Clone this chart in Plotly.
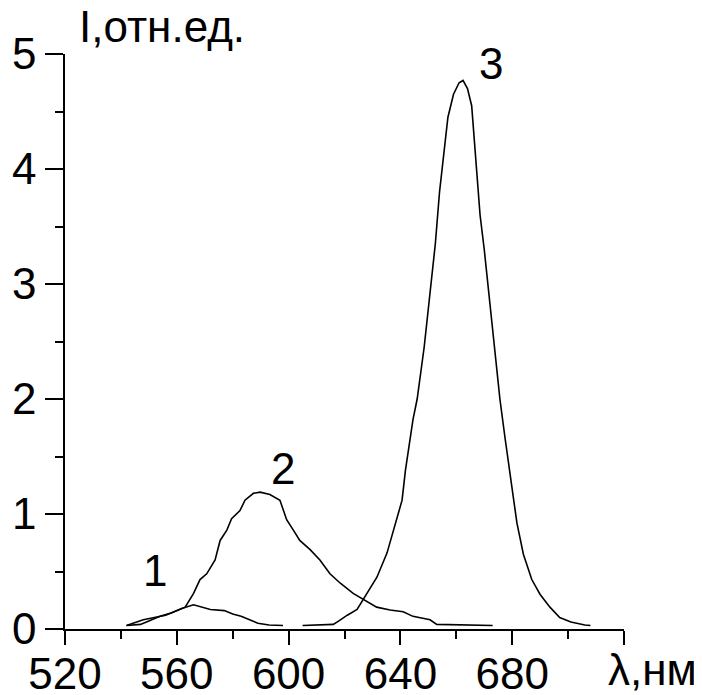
import plotly.graph_objects as go

# ---- data ----
curve1_x = [542, 547, 550, 554, 558, 562, 566, 569, 572, 577, 580, 583, 586, 589, 593, 598]
curve1_y = [0.03, 0.04, 0.07, 0.11, 0.14, 0.18, 0.21, 0.19, 0.17, 0.16, 0.13, 0.11, 0.08, 0.05, 0.035, 0.03]

curve2_x = [542, 548, 556, 563, 566, 568.3, 570.7, 573.7, 575.5, 577.9, 579.6, 582.6, 584.4, 587.4,
            589.8, 593.3, 596.9, 599.3, 601.7, 604, 607.7, 611.2, 614.8, 618.4, 623.1, 628, 631.5,
            636.3, 641, 644.5, 650.6, 653, 665, 673]
curve2_y = [0.03, 0.08, 0.12, 0.19, 0.31, 0.43, 0.48, 0.6, 0.77, 0.86, 0.96, 1.03, 1.12, 1.18,
            1.19, 1.17, 1.12, 0.95, 0.86, 0.77, 0.69, 0.6, 0.48, 0.4, 0.31, 0.24, 0.19,
            0.165, 0.15, 0.11, 0.08, 0.04, 0.035, 0.03]

curve3_x = [605, 616, 618, 621, 624.5, 626.6, 629, 631.6, 635.2, 638, 640.6, 641.8, 643.4, 644.5,
            646, 648.5, 650.5, 652.5, 654, 655.5, 657, 659, 661, 662.4, 664, 665.5, 667, 668.5,
            670, 672, 674, 675.6, 677.5, 679, 680.3, 681.7, 684, 687, 690, 693.5, 697, 701, 706, 708]
curve3_y = [0.03, 0.04, 0.07, 0.12, 0.17, 0.25, 0.35, 0.45, 0.66, 0.89, 1.12, 1.38, 1.62, 1.82,
            2.0, 2.45, 2.9, 3.35, 3.8, 4.15, 4.45, 4.65, 4.75, 4.77, 4.7, 4.55, 4.1, 3.6,
            3.3, 2.85, 2.4, 2.0, 1.65, 1.4, 1.15, 0.92, 0.65, 0.43, 0.3, 0.19, 0.1, 0.06, 0.035, 0.03]

curve_labels = ["1", "2", "3"]
label_x = [552.2, 598, 672.4]
label_y = [0.51, 1.40, 4.92]

x_major = [520, 560, 600, 640, 680, 720]
x_major_text = ["520", "560", "600", "640", "680", ""]
x_minor = [540, 580, 620, 660, 700]
y_major = [0, 1, 2, 3, 4, 5]
y_major_text = ["0", "1", "2", "3", "4", "5"]
y_minor = [0.5, 1.5, 2.5, 3.5, 4.5]

y_title = "I,отн.ед."
x_title = "λ,нм"

FONT = "Liberation Sans, Arial, sans-serif"
FS = 44

fig = go.Figure()
for xs, ys in [(curve1_x, curve1_y), (curve2_x, curve2_y), (curve3_x, curve3_y)]:
    fig.add_trace(go.Scatter(x=xs, y=ys, mode="lines",
                             line=dict(color="black", width=1.6),
                             hoverinfo="skip"))

for t, lx, ly in zip(curve_labels, label_x, label_y):
    fig.add_annotation(x=lx, y=ly, text=t, showarrow=False,
                       xanchor="center", yanchor="middle",
                       font=dict(family=FONT, size=FS, color="black"))

fig.add_annotation(xref="paper", yref="paper", x=0.0215, y=1.0486, text=y_title,
                   showarrow=False, xanchor="left", yanchor="middle",
                   font=dict(family=FONT, size=FS, color="black"))
fig.add_annotation(xref="paper", yref="paper", x=(699 - 65) / 559, y=-0.0713, text=x_title,
                   showarrow=False, xanchor="right", yanchor="middle",
                   font=dict(family=FONT, size=FS, color="black"))

fig.update_xaxes(range=[520, 720], showline=True, linecolor="black", linewidth=1.5,
                 ticks="outside", ticklen=14, tickwidth=2, tickcolor="black",
                 tickvals=x_major, ticktext=x_major_text, ticklabelstandoff=-9,
                 minor=dict(tickvals=x_minor, ticks="outside", ticklen=8,
                            tickwidth=1.5, tickcolor="black", showgrid=False),
                 showgrid=False, zeroline=False, automargin=False,
                 tickfont=dict(family=FONT, size=FS, color="black"))
fig.update_yaxes(range=[0, 5], showline=True, linecolor="black", linewidth=1.5,
                 ticks="outside", ticklen=18, tickwidth=2, tickcolor="black",
                 tickvals=y_major, ticktext=y_major_text,
                 minor=dict(tickvals=y_minor, ticks="outside", ticklen=8,
                            tickwidth=1.5, tickcolor="black", showgrid=False),
                 showgrid=False, zeroline=False, automargin=False,
                 tickfont=dict(family=FONT, size=FS, color="black"))

# page body has an 8px default margin, so shift the plot area up/left by 8px
fig.update_layout(width=702, height=695,
                  margin=dict(l=57, r=86, t=46, b=74),
                  paper_bgcolor="white", plot_bgcolor="white",
                  showlegend=False)

fig.write_html("out.html")
